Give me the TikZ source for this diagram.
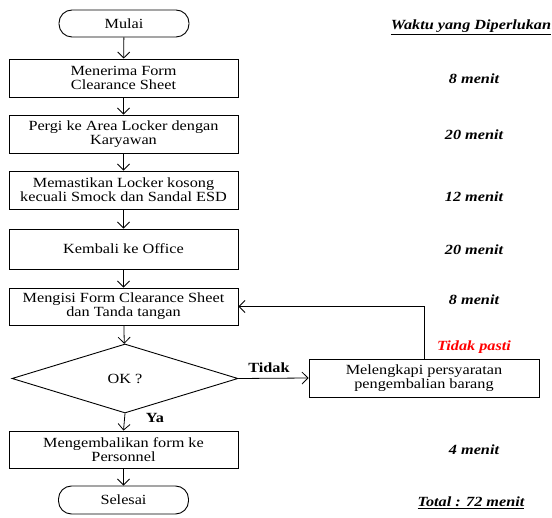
\documentclass[tikz,border=0pt]{standalone}
\usepackage{fontspec}
\setmainfont{Liberation Serif}[FakeStretch=1.16]
\usetikzlibrary{shapes.geometric,arrows.meta}
\begin{document}
\begin{tikzpicture}[x=1pt,y=-1pt,
  every node/.style={font=\fontsize{14}{14}\selectfont, align=center, inner sep=0pt},
  proc/.style={draw, line width=0.9pt, minimum width=229pt},
  term/.style={draw, line width=0.9pt, rounded corners=13pt, minimum width=130pt, minimum height=27pt},
  dec/.style={draw, diamond, line width=0.9pt, minimum width=226pt, minimum height=69pt},
  tlab/.style={font=\fontsize{14}{14}\selectfont\bfseries\itshape},
  lab/.style={font=\fontsize{14}{14}\selectfont\bfseries},
  arr/.style={line width=0.8pt, -{Straight Barb[length=6pt,width=12pt,line width=0.8pt]}}
]
\useasboundingbox (0,0) rectangle (552,518);

\node[term] (mulai) at (124,23.5) {Mulai};
\node[proc, minimum height=38pt] (b1) at (123.5,78) {Menerima Form\\Clearance Sheet};
\node[proc, minimum height=38pt] (b2) at (123.5,134) {Pergi ke Area Locker dengan\\Karyawan};
\node[proc, minimum height=38pt] (b3) at (123.5,190) {Memastikan Locker kosong\\kecuali Smock dan Sandal ESD};
\node[proc, minimum height=40pt] (b4) at (123.5,249) {Kembali ke Office};
\node[proc, minimum height=37pt] (b5) at (123.5,306.5) {Mengisi Form Clearance Sheet\\dan Tanda tangan};
\node[dec] (ok) at (125,378.5) {OK ?};
\node[proc, minimum height=37pt] (b6) at (123.5,449.5) {Mengembalikan form ke\\Personnel};
\node[term, minimum height=28pt] (selesai) at (123.5,500) {Selesai};
\node[proc, minimum width=230pt, minimum height=38pt] (b7) at (424,378) {Melengkapi persyaratan\\pengembalian barang};

\draw[arr] (mulai) -- (b1);
\draw[arr] (b1) -- (b2);
\draw[arr] (b2) -- (b3);
\draw[arr] (b3) -- (b4);
\draw[arr] (b4) -- (b5);
\draw[arr] (b5) -- (ok);
\draw[arr] (ok.south) -- (b6.north);
\draw[arr] (b6) -- (selesai);
\draw[arr] (ok.east) -- (b7.west);
\draw[arr] (b7.north) |- (b5.east);

\node[lab] (tidak) at (269,368) {Tidak};
\node[lab] (ya) at (155,418) {Ya};

\node[tlab] (head) at (471,27) {\underline{Waktu yang Diperlukan}};
\node[tlab] (t1) at (474,79) {8 menit};
\node[tlab] (t2) at (474,135) {20 menit};
\node[tlab] (t3) at (474,197) {12 menit};
\node[tlab] (t4) at (474,250) {20 menit};
\node[tlab] (t5) at (474,300) {8 menit};
\node[tlab, text=red] (tp) at (474,347) {Tidak pasti};
\node[tlab] (t6) at (474,450) {4 menit};
\node[tlab] (total) at (471,503) {\underline{Total : 72 menit}};
\end{tikzpicture}
\end{document}
